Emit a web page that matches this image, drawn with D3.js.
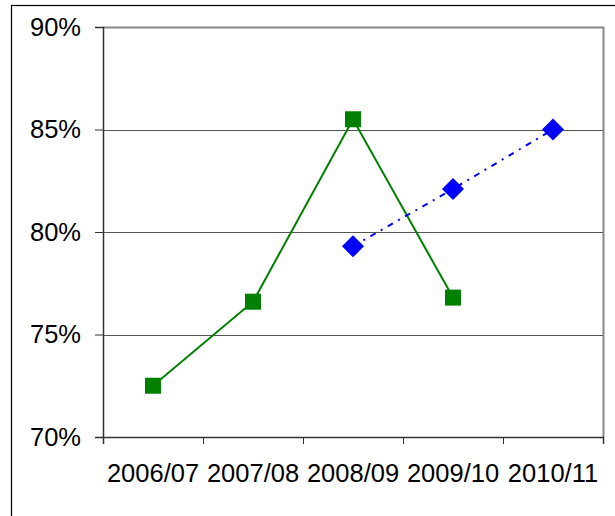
<!DOCTYPE html>
<html lang="en">
<head>
    <meta charset="UTF-8">
    <title>chart</title>
    <script src="https://cdn.jsdelivr.net/npm/d3@7"></script>
    <style>
        body { margin: 0; background: #fff; }
        svg { display: block; }
        text { font-family: "Liberation Sans", Arial, sans-serif; fill: #000; }
    </style>
</head>
<body>
<svg width="615" height="516"></svg>
<script>
    // data
    var categories = ["2006/07", "2007/08", "2008/09", "2009/10", "2010/11"];
    var greenValues = [72.5, 76.6, 85.5, 76.8, null];
    var blueValues = [null, null, 79.3, 82.1, 85.0];
    var yTicks = [70, 75, 80, 85, 90];

    var svg = d3.select("svg");
    var plotLeft = 103, plotRight = 603, plotTop = 27, plotBottom = 437;
    var fontSize = 25.5;

    // outer frame (runs off the right and bottom edges)
    svg.append("rect")
        .attr("x", 11.5).attr("y", 5.5)
        .attr("width", 700).attr("height", 600)
        .attr("fill", "none").attr("stroke", "#000").attr("stroke-width", 1.2);

    var x = d3.scaleBand().domain(categories).range([plotLeft, plotRight]);
    var y = d3.scaleLinear().domain([70, 90]).range([plotBottom, plotTop]);

    // gridlines
    svg.append("g").selectAll("line")
        .data(yTicks.slice(1, 4))
        .enter().append("line")
        .attr("x1", plotLeft).attr("x2", plotRight)
        .attr("y1", function (d) { return Math.round(y(d)) + 0.5; })
        .attr("y2", function (d) { return Math.round(y(d)) + 0.5; })
        .attr("stroke", "#555").attr("stroke-width", 1);

    // plot border top/right
    svg.append("polyline")
        .attr("points", plotLeft + "," + (plotTop + 0.5) + " " + (plotRight + 0.5) + "," + (plotTop + 0.5) + " " + (plotRight + 0.5) + "," + plotBottom)
        .attr("fill", "none").attr("stroke", "#888").attr("stroke-width", 2);

    // y axis
    var yAxis = d3.axisLeft(y).tickValues(yTicks).tickSize(8).tickPadding(14)
        .tickFormat(function (d) { return d + "%"; });
    var gy = svg.append("g").attr("transform", "translate(" + plotLeft + ",0)").call(yAxis);
    gy.select(".domain").attr("stroke", "#333").attr("stroke-width", 1.5);
    gy.selectAll(".tick line").attr("stroke", "#333");
    gy.selectAll("text").attr("font-size", fontSize).attr("font-family", "Liberation Sans, Arial, sans-serif");

    // x axis
    var xTickPos = categories.map(function (c) { return x(c); }).concat([plotRight]);
    var xAxis = d3.axisBottom(d3.scaleLinear().domain([plotLeft, plotRight]).range([plotLeft, plotRight]))
        .tickValues(xTickPos).tickSize(7).tickFormat("");
    var gx = svg.append("g").attr("transform", "translate(0," + plotBottom + ")").call(xAxis);
    gx.select(".domain").attr("stroke", "#333").attr("stroke-width", 1.5);
    gx.selectAll(".tick line").attr("stroke", "#333");

    svg.append("g").selectAll("text")
        .data(categories)
        .enter().append("text")
        .attr("x", function (d) { return x(d) + x.bandwidth() / 2; })
        .attr("y", 482)
        .attr("text-anchor", "middle")
        .attr("font-size", fontSize)
        .text(function (d) { return d; });

    function pts(vals) {
        return categories.map(function (c, i) { return { c: c, v: vals[i] }; })
            .filter(function (d) { return d.v != null; });
    }
    var line = d3.line()
        .x(function (d) { return x(d.c) + x.bandwidth() / 2; })
        .y(function (d) { return y(d.v); });

    // green series
    var green = pts(greenValues);
    svg.append("path").datum(green).attr("d", line)
        .attr("fill", "none").attr("stroke", "#008000").attr("stroke-width", 2);
    svg.append("g").selectAll("rect")
        .data(green).enter().append("rect")
        .attr("x", function (d) { return x(d.c) + x.bandwidth() / 2 - 8; })
        .attr("y", function (d) { return y(d.v) - 8; })
        .attr("width", 16).attr("height", 16)
        .attr("fill", "#008000");

    // blue series
    var blue = pts(blueValues);
    svg.append("path").datum(blue).attr("d", line)
        .attr("fill", "none").attr("stroke", "#0000ff").attr("stroke-width", 2)
        .attr("stroke-dasharray", "6,6,2,6");
    svg.append("g").selectAll("path.dia")
        .data(blue).enter().append("path")
        .attr("class", "dia")
        .attr("d", function (d) {
            var cx = x(d.c) + x.bandwidth() / 2, cy = y(d.v), r = 11;
            return "M" + cx + "," + (cy - r) + "L" + (cx + r) + "," + cy + "L" + cx + "," + (cy + r) + "L" + (cx - r) + "," + cy + "Z";
        })
        .attr("fill", "#0000ff");
</script>
</body>
</html>
